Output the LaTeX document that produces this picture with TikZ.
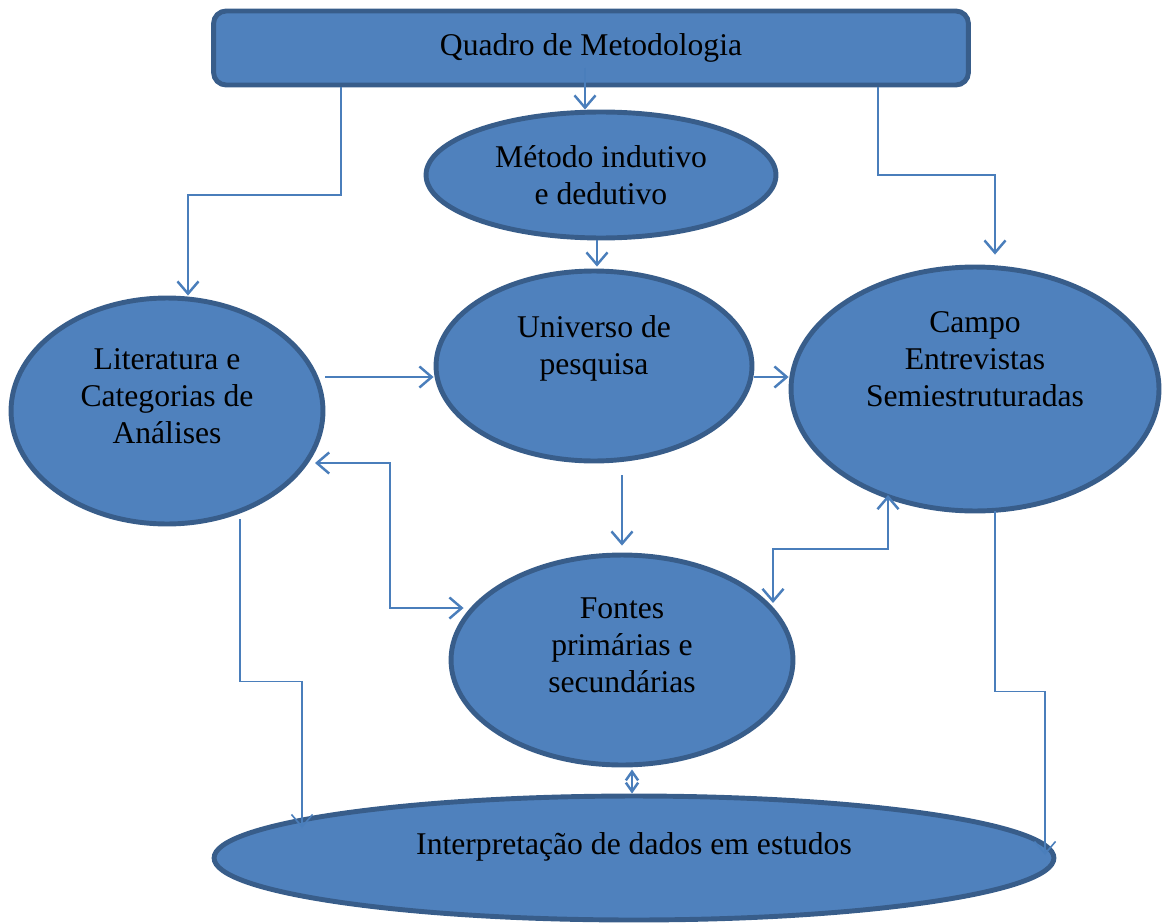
\documentclass[tikz,border=0pt]{standalone}
\usepackage{fontspec}
\setmainfont{Liberation Serif}
\usetikzlibrary{arrows.meta,calc,shapes.geometric}
\definecolor{boxfill}{HTML}{4F81BD}
\definecolor{boxline}{HTML}{385D8A}
\definecolor{linkline}{HTML}{4A7EBB}
\begin{document}
\begin{tikzpicture}[x=0.02cm,y=-0.02cm,>={Straight Barb[length=7pt,width=12pt]},
    box/.style={draw=boxline,fill=boxfill,line width=2.8pt,align=center,inner sep=0pt,
        font=\fontsize{18}{21}\selectfont},
    oval/.style={box,ellipse},
    lift/.style={text depth=#1},
    link/.style={draw=linkline,line width=1.4pt},
    thinlink/.style={draw=linkline,line width=0.9pt}]
\useasboundingbox (0,0) rectangle (1168,922);

\node[box,rounded corners=0.25cm,minimum width=15.1cm,minimum height=1.48cm] (quadro) at (591,48) {Quadro de Metodologia};
\node[oval,minimum width=7.0cm,minimum height=2.52cm] (metodo) at (601,175) {Método indutivo\\e dedutivo};
\node[oval,lift=24pt,minimum width=6.32cm,minimum height=3.8cm] (universo) at (594,366) {Universo de\\pesquisa};
\node[oval,lift=34pt,minimum width=7.36cm,minimum height=4.88cm] (campo) at (975,389) {Campo\\Entrevistas\\Semiestruturadas};
\node[oval,lift=17pt,minimum width=6.24cm,minimum height=4.52cm] (lit) at (167,411) {Literatura e\\Categorias de\\Análises};
\node[oval,lift=17pt,minimum width=6.84cm,minimum height=4.2cm] (fontes) at (622,660) {Fontes\\primárias e\\secundárias};
\node[oval,lift=17pt,minimum width=16.8cm,minimum height=2.48cm] (interp) at (634,858) {Interpretação de dados em estudos};

% ligacoes
\draw[link,->] ($(quadro.center)+(-6,20)$) -- ($(metodo.north)+(-16,0)$);
\draw[link,->] ($(quadro.south)+(-250,0)$) -- ++(0,107.5) -| ($(lit.north)+(21,0)$);
\draw[link,->] ($(quadro.south)+(287,0)$) -- ++(0,87.5) -| ($(campo.north)+(20,-10)$);
\draw[link,->] ($(metodo.south)+(-4,0)$) -- ($(universo.north)+(3,-2)$);
\draw[link,->] ($(lit.center)+(158,-34)$) -- ($(universo.west)+(0,11)$);
\draw[link,->] ($(universo.east)+(0,11)$) -- ($(campo.west)+(0,-12)$);
\draw[link,->] ($(universo.south)+(28,12)$) -- ($(fontes.north)+(0,-7)$);

\draw[link,<->] ($(lit.center)+(148,52)$) -- ++(75,0) |- ($(fontes.west)+(15,-52)$);
\draw[link,<->] ($(fontes.center)+(151,-57)$) -- ++(0,-54) -| ($(campo.center)+(-87,106)$);
\draw[link,<->,>={Straight Barb[length=5pt,width=7pt]}] ($(fontes.south)+(10,2)$) -- ($(interp.north)+(-2,0)$);

\draw[thinlink,->] ($(lit.south)+(73,-7)$) -- ++(0,162) -| ($(interp.center)+(-332,-30)$);
\draw[thinlink,->] ($(campo.south)+(20,-2)$) -- ++(0,180) -| ($(interp.center)+(411,-3)$);

\end{tikzpicture}
\end{document}
